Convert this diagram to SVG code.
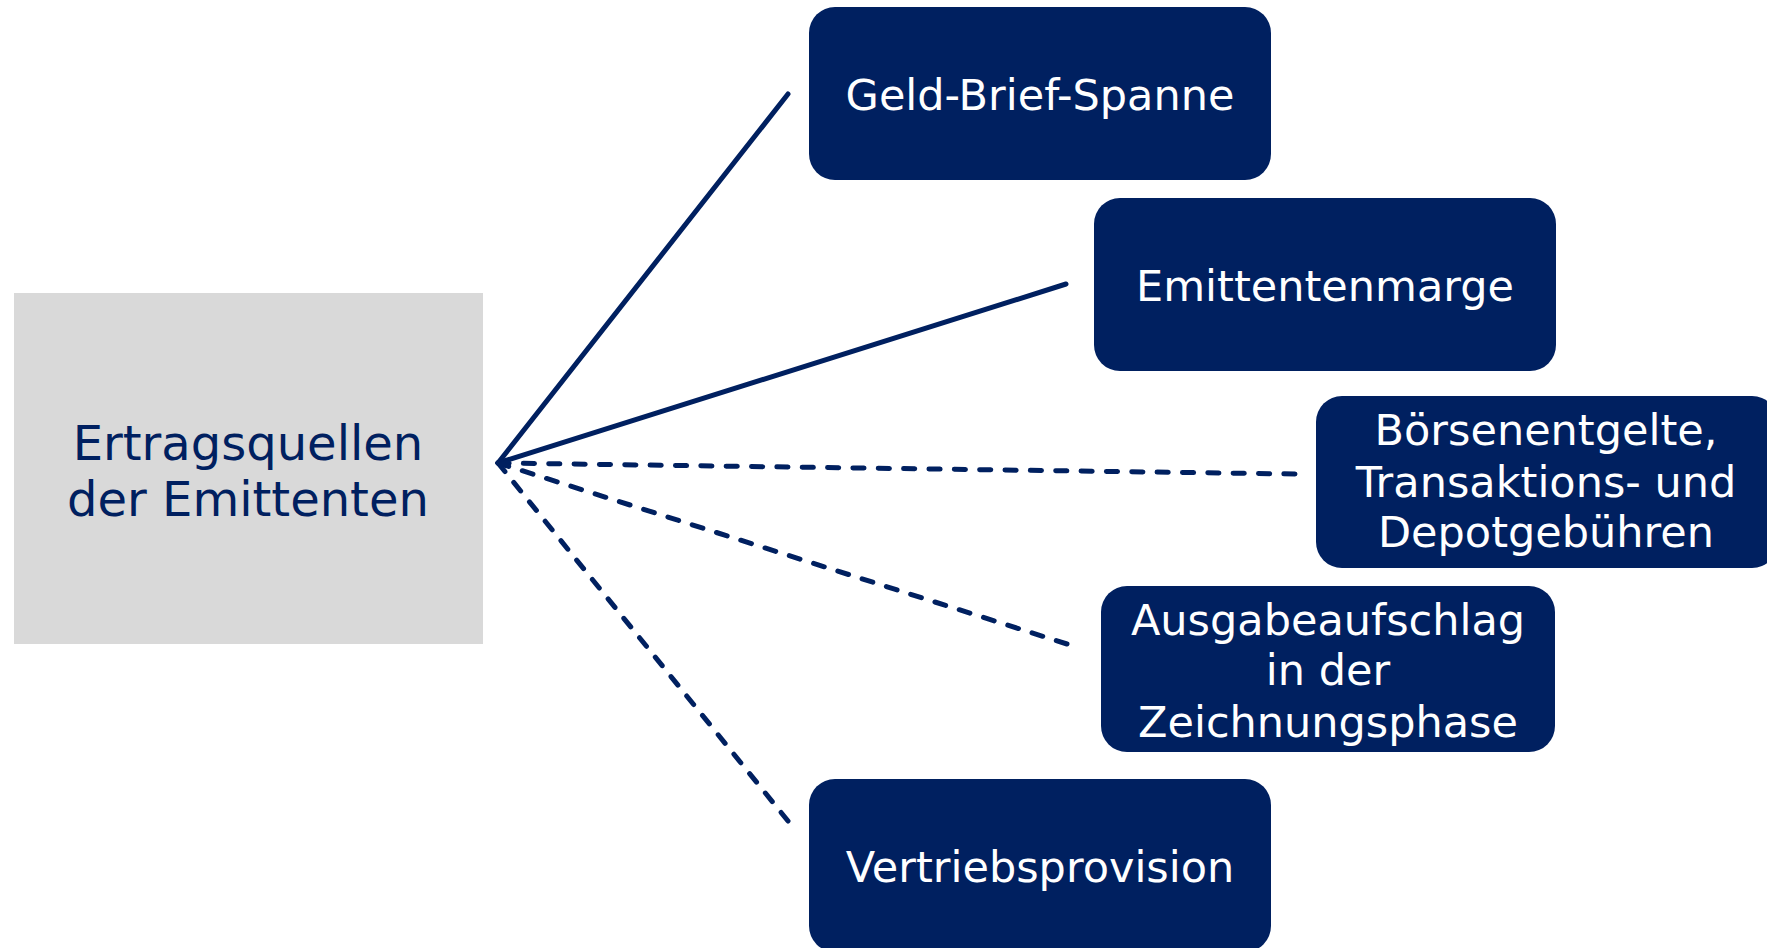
<svg xmlns="http://www.w3.org/2000/svg" width="1767" height="948" viewBox="0 0 1767 948">
<style>
.box{fill:#002060;}
.wt{fill:#ffffff;font-family:"DejaVu Sans","Verdana",sans-serif;font-size:43px;text-anchor:middle;}
.ct{fill:#002060;font-family:"DejaVu Sans","Verdana",sans-serif;font-size:48px;text-anchor:middle;}
.solid{stroke:#002060;stroke-width:5;stroke-linecap:round;fill:none;}
.dash{stroke:#002060;stroke-width:5;stroke-linecap:round;stroke-dasharray:11 14;fill:none;}
</style>
<rect width="1767" height="948" fill="#ffffff"/>
<g id="connectors">
<line class="solid" x1="498" y1="463" x2="788" y2="94"/>
<line class="solid" x1="498" y1="463" x2="1066" y2="284"/>
<line class="dash" x1="498" y1="463" x2="1295" y2="474" pathLength="786"/>
<line class="dash" x1="498" y1="463" x2="1067" y2="644" pathLength="586"/>
<line class="dash" x1="498" y1="463" x2="788" y2="821" pathLength="461"/>
</g>
<g id="center">
<rect x="14" y="293" width="469" height="351" fill="#d9d9d9"/>
<text class="ct" x="248" y="460">Ertragsquellen</text>
<text class="ct" x="248" y="516">der Emittenten</text>
</g>
<g id="geld">
<rect class="box" x="809" y="7" width="462" height="173" rx="26"/>
<text class="wt" x="1040" y="110">Geld-Brief-Spanne</text>
</g>
<g id="marge">
<rect class="box" x="1094" y="198" width="462" height="173" rx="26"/>
<text class="wt" x="1325" y="301">Emittentenmarge</text>
</g>
<g id="boerse">
<rect class="box" x="1316" y="396" width="462" height="172" rx="26"/>
<text class="wt" x="1546" y="445">Börsenentgelte,</text>
<text class="wt" x="1546" y="497">Transaktions- und</text>
<text class="wt" x="1546" y="547">Depotgebühren</text>
</g>
<g id="ausgabe">
<rect class="box" x="1101" y="586" width="454" height="166" rx="26"/>
<text class="wt" x="1328" y="635">Ausgabeaufschlag</text>
<text class="wt" x="1328" y="685">in der</text>
<text class="wt" x="1328" y="737">Zeichnungsphase</text>
</g>
<g id="vertrieb">
<rect class="box" x="809" y="779" width="462" height="173" rx="26"/>
<text class="wt" x="1040" y="882">Vertriebsprovision</text>
</g>
</svg>
